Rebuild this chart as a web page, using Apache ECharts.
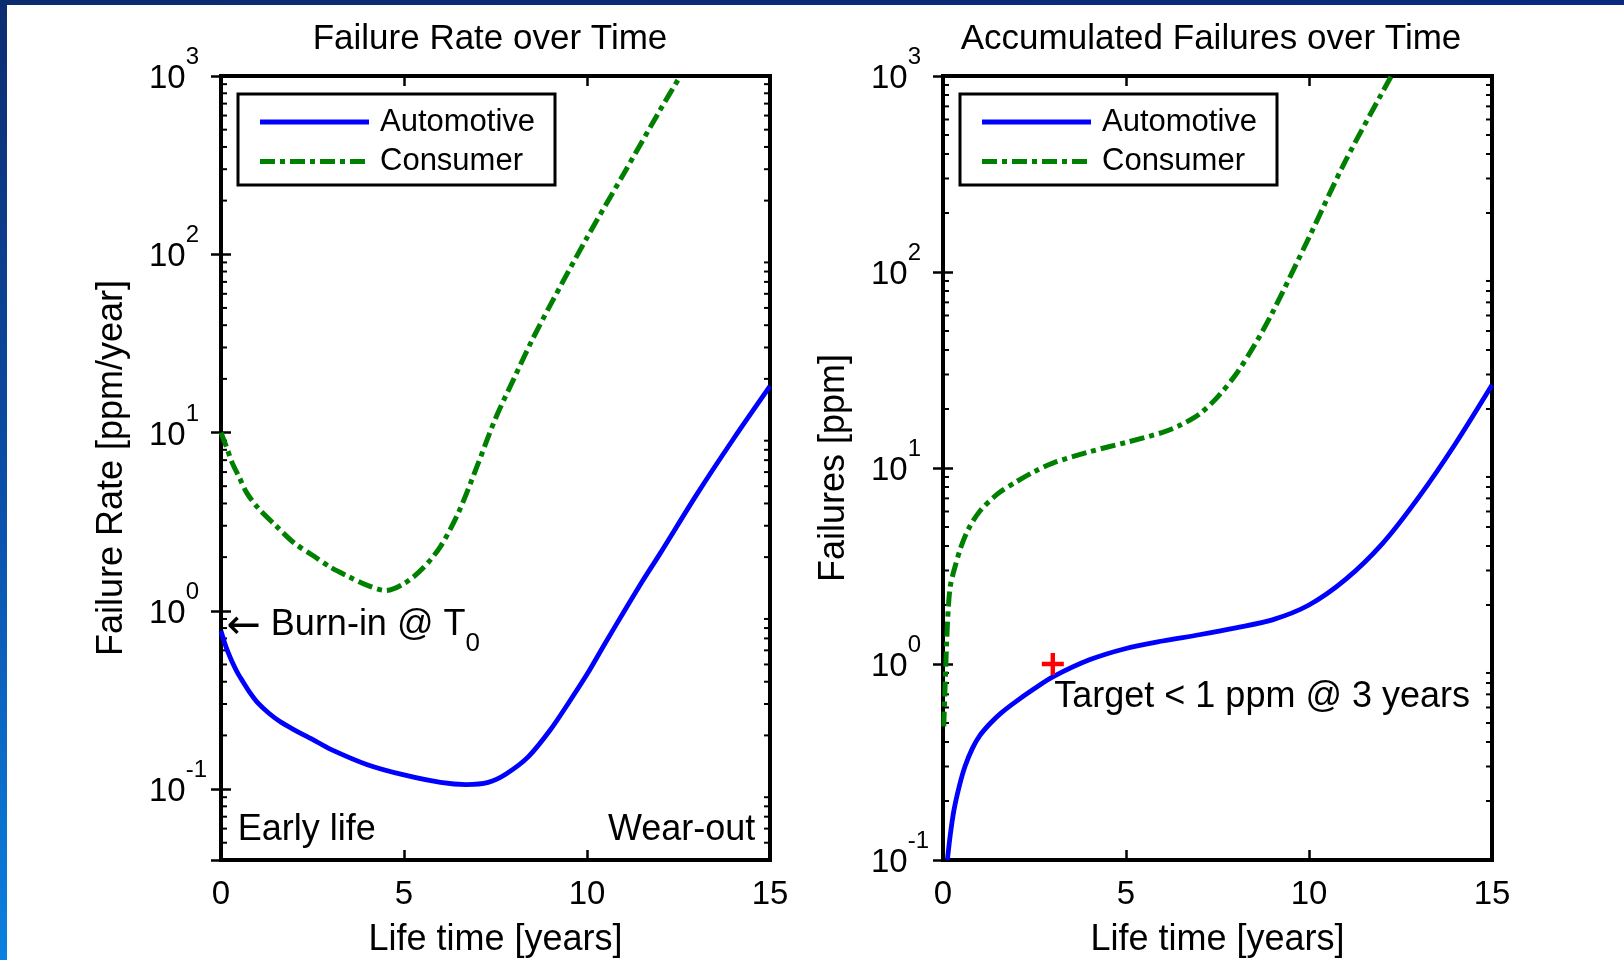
<!DOCTYPE html>
<html>
<head>
<meta charset="utf-8">
<title>Failure Rate / Accumulated Failures over Time</title>
<script src="https://cdn.jsdelivr.net/npm/echarts@6/dist/echarts.min.js"></script>
<style>
  html, body { margin: 0; padding: 0; background: #fff; }
  #main { width: 1624px; height: 960px; }
</style>
</head>
<body>
<div id="main"></div>
<script>
// values (time in years)
const rateAutoT = [0, 0.1, 0.2, 0.3, 0.45, 0.6, 0.8, 1, 1.3, 1.6, 2, 2.5, 3, 4, 5, 6, 6.7, 7.3, 7.8, 8.4, 9, 9.5, 10, 10.5, 11, 11.5, 12, 13, 14, 15];
const rateAuto  = [0.77, 0.66, 0.58, 0.52, 0.45, 0.4, 0.345, 0.305, 0.267, 0.24, 0.215, 0.19, 0.167, 0.137, 0.12, 0.109, 0.106, 0.109, 0.122, 0.152, 0.215, 0.305, 0.44, 0.66, 0.98, 1.45, 2.1, 4.5, 9.2, 18.2];

const rateConsT = [0, 0.15, 0.3, 0.5, 0.7, 1, 1.5, 2, 2.5, 3, 3.5, 4, 4.5, 5, 5.5, 6, 6.5, 7, 7.5, 8, 8.5, 9, 10, 11, 12, 12.55];
const rateCons  = [10, 8.3, 6.8, 5.6, 4.6, 3.8, 3.0, 2.4, 2.05, 1.75, 1.55, 1.39, 1.3, 1.42, 1.72, 2.3, 3.6, 6.5, 12, 20, 33, 52, 124, 282, 646, 1000];

const accAutoT = [0.12, 0.2, 0.3, 0.45, 0.6, 0.8, 1, 1.3, 1.6, 2, 2.5, 3, 4, 5, 6, 7, 8, 9, 10, 11, 12, 13, 14, 15];
const accAuto  = [0.1, 0.135, 0.18, 0.24, 0.3, 0.37, 0.43, 0.5, 0.565, 0.645, 0.75, 0.86, 1.05, 1.2, 1.31, 1.41, 1.53, 1.68, 2.0, 2.7, 4.1, 7.1, 13.3, 26.5];

const accConsT = [0.02, 0.06, 0.1, 0.15, 0.2, 0.3, 0.5, 0.7, 1, 1.5, 2, 2.5, 3, 4, 5, 6, 6.5, 7, 7.5, 8, 8.5, 9, 10, 11, 12.25];
const accCons  = [0.48, 0.8, 1.3, 2.0, 2.5, 3.0, 4.0, 4.9, 6.0, 7.4, 8.5, 9.6, 10.6, 12.1, 13.5, 15.2, 16.6, 18.8, 23, 30, 42, 62, 150, 370, 1000];

const target = [[3, 1]];

const xTicks = [0, 5, 10, 15];
const rateExp = [-1, 0, 1, 2, 3];
const accExp = [-1, 0, 1, 2, 3];
const minorTicks = [0.05, 0.06, 0.07, 0.08, 0.09,
  0.2, 0.3, 0.4, 0.5, 0.6, 0.7, 0.8, 0.9,
  2, 3, 4, 5, 6, 7, 8, 9,
  20, 30, 40, 50, 60, 70, 80, 90,
  200, 300, 400, 500, 600, 700, 800, 900];

const FONT = "'Liberation Sans', Arial, sans-serif";
const BLUE = "#0000ff";
const GREEN = "#008000";
const DASHDOT = [15, 5, 5, 5];

function zip(t, v) {
  return t.map((x, i) => [x, v[i]]);
}

function powLabel(exps) {
  return function (value) {
    const l = Math.log10(value);
    const e = Math.round(l);
    if (Math.abs(l - e) > 1e-6 || exps.indexOf(e) < 0) return "";
    return "{b|10}{e|" + e + "}";
  };
}

// 10^n tick labels: base a bit below the tick, exponent raised above it
const labelRich = {
  b: { fontSize: 33, lineHeight: 37, padding: [6, 0, 0, 0], fontFamily: FONT, color: "#000" },
  e: { fontSize: 24, lineHeight: 24, padding: [0, 0, 37, 0], fontFamily: FONT, color: "#000" }
};

function xAxisPair(gridIndex) {
  const base = {
    gridIndex: gridIndex,
    type: "value",
    min: xTicks[0],
    max: xTicks[xTicks.length - 1],
    interval: 5,
    axisLine: { show: false },
    axisTick: { show: true, inside: true, length: 10, lineStyle: { color: "#000", width: 2.5 } },
    splitLine: { show: false }
  };
  return [
    Object.assign({}, base, {
      position: "bottom",
      name: "Life time [years]",
      nameLocation: "middle",
      nameGap: 62,
      nameTextStyle: { fontSize: 36, color: "#000", fontFamily: FONT },
      axisLabel: { fontSize: 33, color: "#000", fontFamily: FONT, margin: 18 }
    }),
    Object.assign({}, base, { position: "top", axisLabel: { show: false } })
  ];
}

function yAxisPair(gridIndex, name, min, exps) {
  const base = {
    gridIndex: gridIndex,
    type: "log",
    logBase: 10,
    min: min,
    max: 1000,
    axisLine: { show: false },
    axisTick: { show: true, inside: true, length: 10, lineStyle: { color: "#000", width: 2.5 } },
    splitLine: { show: false },
    minorTick: { show: false }
  };
  return [
    Object.assign({}, base, {
      position: "left",
      name: name,
      nameLocation: "middle",
      nameRotate: 90,
      nameGap: 91,
      nameTextStyle: { fontSize: 36, color: "#000", fontFamily: FONT },
      axisLabel: { margin: 72, align: "left", formatter: powLabel(exps), rich: labelRich }
    }),
    Object.assign({}, base, { position: "right", axisLabel: { show: false } })
  ];
}

function minorTickItem(params, api) {
  const cs = params.coordSys;
  const y = api.coord([0, api.value(1)])[1];
  const st = { stroke: "#000", lineWidth: 2 };
  return {
    type: "group",
    children: [
      { type: "line", shape: { x1: cs.x, y1: y, x2: cs.x + 6, y2: y }, style: st },
      { type: "line", shape: { x1: cs.x + cs.width - 6, y1: y, x2: cs.x + cs.width, y2: y }, style: st }
    ]
  };
}

function minorSeries(idx, min) {
  return {
    type: "custom",
    xAxisIndex: idx * 2,
    yAxisIndex: idx * 2,
    silent: true,
    clip: false,
    renderItem: minorTickItem,
    data: minorTicks.filter(v => v > min && v < 1000).map(v => [0, v])
  };
}

function curve(name, idx, data, color, dash) {
  return {
    name: name,
    type: "line",
    xAxisIndex: idx * 2,
    yAxisIndex: idx * 2,
    data: data,
    showSymbol: false,
    symbol: "none",
    smooth: 0.3,
    z: 3,
    lineStyle: { color: color, width: dash ? 5 : 4.8, type: dash ? DASHDOT : "solid", cap: "butt" }
  };
}

const noteRich = {
  a: { fontSize: 41, lineHeight: 40, verticalAlign: "top", color: "#000", fontFamily: "'DejaVu Sans', sans-serif" },
  b: { fontSize: 36, lineHeight: 40, verticalAlign: "top", color: "#000", fontFamily: FONT },
  s: { fontSize: 26, lineHeight: 26, padding: [24, 0, 0, 0], verticalAlign: "top", color: "#000", fontFamily: FONT }
};

function note(idx, point, text, align) {
  return {
    type: "scatter",
    xAxisIndex: idx * 2,
    yAxisIndex: idx * 2,
    silent: true,
    symbol: "circle",
    symbolSize: 0.1,
    itemStyle: { color: "transparent", opacity: 1 },
    data: [point],
    label: {
      show: true,
      position: "inside",
      align: align,
      verticalAlign: "middle",
      formatter: text,
      color: "#000",
      opacity: 1,
      textBorderWidth: 0,
      textBorderColor: "transparent",
      fontSize: 36,
      fontFamily: FONT,
      rich: noteRich
    }
  };
}

function legendBox(x, y) {
  const rows = [
    { label: "Automotive", color: BLUE, dash: null, w: 4.8, dy: 28 },
    { label: "Consumer", color: GREEN, dash: DASHDOT, w: 5, dy: 67.5 }
  ];
  const children = [{
    type: "rect",
    shape: { x: 0, y: 0, width: 317, height: 91 },
    style: { fill: "#fff", stroke: "#000", lineWidth: 3 }
  }];
  rows.forEach(r => {
    children.push({
      type: "line",
      shape: { x1: 22, y1: r.dy, x2: 131, y2: r.dy },
      style: { stroke: r.color, lineWidth: r.w, lineDash: r.dash }
    });
    children.push({
      type: "text",
      x: 142,
      y: r.dy,
      style: { text: r.label, fontSize: 31, fontFamily: FONT, fill: "#000", verticalAlign: "middle", align: "left" }
    });
  });
  return { type: "group", x: x, y: y, z: 10, children: children };
}

const gridBase = {
  top: 76, width: 549, height: 784,
  containLabel: false, outerBoundsMode: "none",
  show: true, borderColor: "#000", borderWidth: 4, backgroundColor: "#fff"
};

const chart = echarts.init(document.getElementById("main"));
chart.setOption({
  backgroundColor: "#fff",
  animation: false,
  title: [
    { text: "Failure Rate over Time", left: 485, top: 17, textAlign: "center",
      textStyle: { fontSize: 35, fontWeight: "normal", color: "#000", fontFamily: FONT } },
    { text: "Accumulated Failures over Time", left: 1206, top: 17, textAlign: "center",
      textStyle: { fontSize: 35, fontWeight: "normal", color: "#000", fontFamily: FONT } }
  ],
  grid: [
    Object.assign({ left: 221 }, gridBase),
    Object.assign({ left: 943 }, gridBase)
  ],
  xAxis: xAxisPair(0).concat(xAxisPair(1)),
  yAxis: yAxisPair(0, "Failure Rate [ppm/year]", 0.04, rateExp)
    .concat(yAxisPair(1, "Failures [ppm]", 0.1, accExp)),
  graphic: [
    {
      type: "rect", z: 0,
      shape: { x: 0, y: 0, width: 1624, height: 5 },
      style: { fill: new echarts.graphic.LinearGradient(0, 0, 1, 0, [
        { offset: 0, color: "#0c2c70" }, { offset: 1, color: "#0a2a80" }]) }
    },
    {
      type: "rect", z: 0,
      shape: { x: 0, y: 0, width: 7, height: 960 },
      style: { fill: new echarts.graphic.LinearGradient(0, 0, 0, 1, [
        { offset: 0, color: "#0c2c70" }, { offset: 0.5, color: "#0b4ea6" }, { offset: 1, color: "#0a80e0" }]) }
    },
    legendBox(238, 94),
    legendBox(960, 94)
  ],
  series: [
    minorSeries(0, 0.04),
    minorSeries(1, 0.1),
    curve("Automotive", 0, zip(rateAutoT, rateAuto), BLUE, false),
    curve("Consumer", 0, zip(rateConsT, rateCons), GREEN, true),
    curve("Automotive", 1, zip(accAutoT, accAuto), BLUE, false),
    curve("Consumer", 1, zip(accConsT, accCons), GREEN, true),
    {
      type: "scatter",
      xAxisIndex: 2,
      yAxisIndex: 2,
      z: 4,
      data: target,
      symbol: "path://M4,0 H6 V4 H10 V6 H6 V10 H4 V6 H0 V4 H4 Z",
      symbolSize: 22,
      itemStyle: { color: "#ff0000", opacity: 1 }
    },
    note(0, [0.15, 0.81], "{a|\u2190}{b| Burn-in @ T}{s|0}", "left"),
    note(0, [0.46, 0.0585], "Early life", "left"),
    note(0, [14.6, 0.0585], "Wear-out", "right"),
    note(1, [3.04, 0.675], "Target < 1 ppm @ 3 years", "left")
  ]
});
</script>
</body>
</html>
